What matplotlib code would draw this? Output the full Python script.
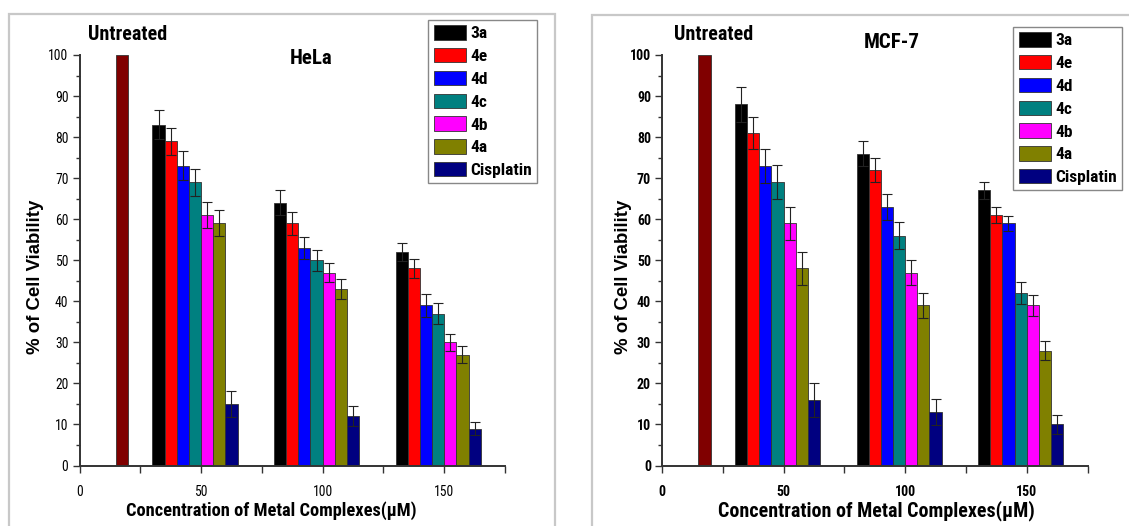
import matplotlib
matplotlib.use("Agg")
import matplotlib.pyplot as plt
from matplotlib.patches import Rectangle
from matplotlib.ticker import MultipleLocator
import numpy as np

COND = ['Roboto Condensed', 'Liberation Sans', 'DejaVu Sans']
WIDE = ['Liberation Sans', 'DejaVu Sans']
plt.rcParams['font.family'] = COND

# ---- data ----
series_names = ['3a', '4e', '4d', '4c', '4b', '4a', 'Cisplatin']
series_colors = ['#000000', '#ff0000', '#0000ff', '#008080', '#ff00ff', '#808000', '#000080']
concentrations = [50, 100, 150]
untreated_value = 100
untreated_color = '#800000'

hela_means = [[83, 64, 52], [79, 59, 48], [73, 53, 39], [69, 50, 37],
              [61, 47, 30], [59, 43, 27], [15, 12, 9]]
hela_errs = [[3.5, 3.0, 2.3], [3.3, 2.8, 2.4], [3.5, 2.7, 2.8], [3.3, 2.5, 2.5],
             [3.2, 2.3, 2.1], [3.2, 2.5, 2.0], [3.2, 2.4, 1.6]]
mcf7_means = [[88, 76, 67], [81, 72, 61], [73, 63, 59], [69, 56, 42],
              [59, 47, 39], [48, 39, 28], [16, 13, 10]]
mcf7_errs = [[4.3, 3.0, 2.0], [4.0, 3.0, 2.0], [4.2, 3.1, 1.8], [4.2, 3.2, 2.6],
             [4.0, 3.1, 2.5], [4.0, 3.0, 2.3], [4.2, 3.2, 2.3]]

W, H = 1129, 526
fig = plt.figure(figsize=(W / 100, H / 100), dpi=100)

# panel frames (light gray borders)
fig.patches.append(Rectangle((8.6 / W, -0.1), (555 - 8.6) / W, 1.1 - 13.5 / H,
                             transform=fig.transFigure, fill=False,
                             edgecolor='#c8c8c8', linewidth=1.6))
fig.patches.append(Rectangle((592 / W, -0.1), 0.5, 1.1 - 14.5 / H,
                             transform=fig.transFigure, fill=False,
                             edgecolor='#c8c8c8', linewidth=1.6))

bar_w = 5.0
AX_W, AX_H, AX_TOP = 425.5, 410.5, 465.5


def panel(ax_left_px, means, errs, title, title_xy, untreated_xy, legend_anchor,
          bold_ticks, xlabel_size, xlabel_x, ylabel_x, tick_size):
    ax = fig.add_axes([ax_left_px / W, (H - AX_TOP) / H, AX_W / W, AX_H / H])
    ax.bar(17.5, untreated_value, width=bar_w, color=untreated_color,
           edgecolor='#333333', linewidth=0.6)
    conc = np.array(concentrations, dtype=float)
    for i, name in enumerate(series_names):
        x = conc - 17.5 + bar_w * i
        ax.bar(x, means[i], width=bar_w, color=series_colors[i],
               edgecolor='#333333', linewidth=0.6, label=name)
        ax.errorbar(x, means[i], yerr=errs[i], fmt='none', ecolor='#222222',
                    elinewidth=0.8, capsize=3.5, capthick=0.8)
    ax.set_xlim(0, 175)
    ax.set_ylim(0, 100)
    for s in ['top', 'right']:
        ax.spines[s].set_visible(False)
    for s in ['left', 'bottom']:
        ax.spines[s].set_linewidth(1.4)
        ax.spines[s].set_color('#333333')
    ax.xaxis.set_major_locator(MultipleLocator(50))
    ax.xaxis.set_minor_locator(MultipleLocator(25))
    ax.yaxis.set_major_locator(MultipleLocator(10))
    ax.yaxis.set_minor_locator(MultipleLocator(5))
    ax.tick_params(which='major', length=5, width=1.0, color='#333333',
                   labelsize=tick_size, pad=3)
    ax.tick_params(axis='x', which='major', pad=9)
    ax.tick_params(which='minor', length=3, width=1.0, color='#333333')
    ax.tick_params(axis='x', which='minor', length=5)
    fw = 'bold' if bold_ticks else 'normal'
    for lab in ax.get_xticklabels() + ax.get_yticklabels():
        lab.set_fontweight(fw)
    ax.set_ylabel('% of Cell Viability', fontsize=13.4, fontweight='bold',
                  family=WIDE, va='center')
    ax.yaxis.set_label_coords((ylabel_x - ax_left_px) / AX_W, (AX_TOP - 277) / AX_H)
    ax.set_xlabel('Concentration of Metal Complexes(\u03bcM)', fontsize=xlabel_size,
                  fontweight='bold', va='center')
    ax.xaxis.set_label_coords((xlabel_x - ax_left_px) / AX_W, (AX_TOP - 511) / AX_H)
    fig.text(title_xy[0] / W, 1 - title_xy[1] / H, title, ha='center', va='center',
             fontsize=15, fontweight='bold')
    fig.text(untreated_xy[0] / W, 1 - untreated_xy[1] / H, 'Untreated', ha='center',
             va='center', fontsize=14.5, fontweight='bold')
    leg = ax.legend(loc='upper right',
                    bbox_to_anchor=(legend_anchor[0] / W, 1 - legend_anchor[1] / H),
                    bbox_transform=fig.transFigure, fancybox=False, framealpha=1,
                    edgecolor='#888888', prop={'weight': 'bold', 'size': 12.5},
                    handlelength=1.85, handleheight=0.9, labelspacing=0.38,
                    handletextpad=0.25, borderpad=0.3, borderaxespad=0)
    leg.get_frame().set_linewidth(1.0)
    return ax


panel(79.5, hela_means, hela_errs, 'HeLa', (311, 59), (128, 35), (537, 20),
      bold_ticks=False, xlabel_size=13.2, xlabel_x=271, ylabel_x=36, tick_size=9.8)
panel(662, mcf7_means, mcf7_errs, 'MCF-7', (892, 43), (714, 35), (1122, 27),
      bold_ticks=True, xlabel_size=14.4, xlabel_x=876, ylabel_x=623, tick_size=10)

fig.savefig('out.png', dpi=100)
